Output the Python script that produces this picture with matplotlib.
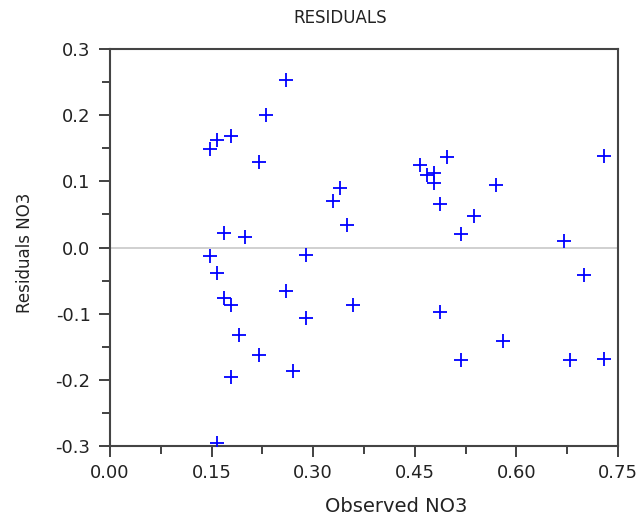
import matplotlib
matplotlib.use('Agg')
import matplotlib.pyplot as plt
from matplotlib.ticker import MultipleLocator, FormatStrFormatter

plt.rcParams['font.family'] = ['DejaVu Sans']

# observed NO3 and residuals
observed = [0.260, 0.230, 0.179, 0.158, 0.148, 0.220, 0.168, 0.199, 0.148, 0.158,
            0.168, 0.179, 0.190, 0.220, 0.179, 0.158, 0.290, 0.260, 0.289, 0.270,
            0.329, 0.340, 0.350, 0.359, 0.458, 0.478, 0.468, 0.478, 0.498, 0.487,
            0.537, 0.570, 0.518, 0.487, 0.518, 0.580, 0.670, 0.700, 0.679, 0.729,
            0.729]
residuals = [0.253, 0.200, 0.169, 0.163, 0.149, 0.129, 0.022, 0.016, -0.013, -0.039,
             -0.076, -0.087, -0.132, -0.162, -0.196, -0.295, -0.011, -0.065, -0.107, -0.186,
             0.070, 0.090, 0.034, -0.087, 0.125, 0.113, 0.109, 0.097, 0.137, 0.066,
             0.048, 0.095, 0.020, -0.098, -0.170, -0.141, 0.010, -0.041, -0.170, 0.139,
             -0.168]

fig = plt.figure(figsize=(6.43, 5.15), dpi=100)
ax = fig.add_axes([110 / 643, 1 - 446 / 515, 508 / 643, 397 / 515])

ax.axhline(0, color='#c8c8c8', lw=1.2, zorder=1)
ax.plot(observed, residuals, linestyle='none', marker='+', color='#0000ff',
        markersize=10, markeredgewidth=1.3, zorder=3)

ax.set_xlim(0, 0.75)
ax.set_ylim(-0.3, 0.3)
ax.xaxis.set_major_locator(MultipleLocator(0.15))
ax.xaxis.set_minor_locator(MultipleLocator(0.075))
ax.yaxis.set_major_locator(MultipleLocator(0.1))
ax.yaxis.set_minor_locator(MultipleLocator(0.05))
ax.xaxis.set_major_formatter(FormatStrFormatter('%.2f'))
ax.yaxis.set_major_formatter(FormatStrFormatter('%.1f'))

for s in ax.spines.values():
    s.set_color('#444444')
    s.set_linewidth(1.5)

ax.tick_params(which='both', direction='out', color='#333333', width=1.3,
               labelsize=13, labelcolor='#222222')
ax.tick_params(which='major', length=8)
ax.tick_params(which='minor', length=6)
ax.tick_params(axis='x', which='major', pad=5)
ax.tick_params(axis='y', which='major', pad=6)

fig.text(340 / 643, 1 - 18 / 515, 'RESIDUALS', ha='center', va='center',
         fontsize=12, color='#222222')
fig.text(396 / 643, 1 - 506 / 515, 'Observed NO3', ha='center', va='center',
         fontsize=14, color='#222222')
fig.text(25 / 643, 1 - 253 / 515, 'Residuals NO3', ha='center', va='center',
         rotation=90, fontsize=12, color='#222222')

fig.savefig('out.png', dpi=100)
